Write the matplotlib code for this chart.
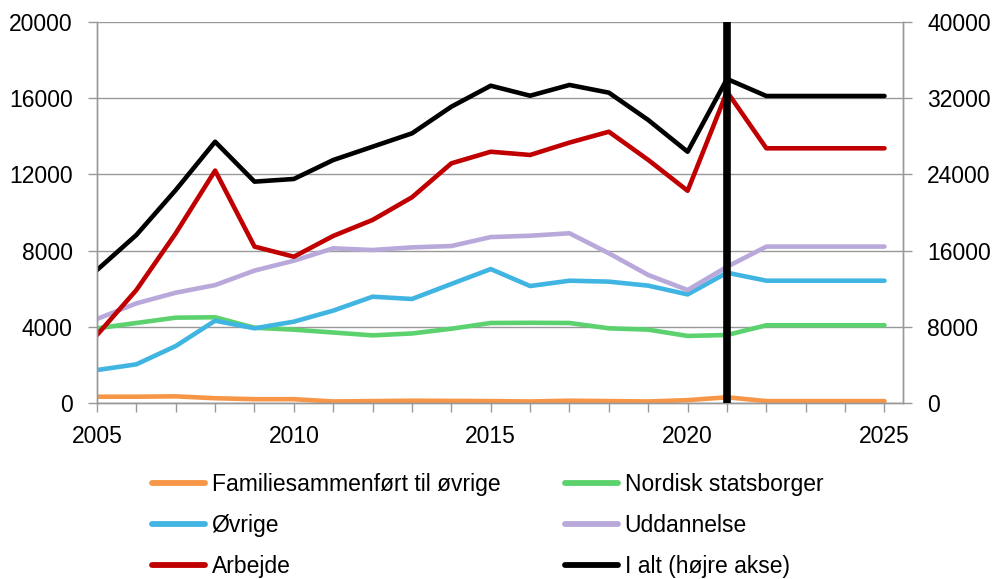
import matplotlib
matplotlib.use("Agg")
import matplotlib.pyplot as plt

years = list(range(2005, 2026))
familie = [330, 330, 350, 250, 200, 200, 80, 100, 120, 110, 100, 80, 120, 100, 80, 150, 300, 100, 100, 100, 100]
nordisk = [3920, 4200, 4480, 4500, 3950, 3850, 3700, 3550, 3650, 3900, 4200, 4210, 4200, 3920, 3850, 3520, 3570, 4080, 4080, 4080, 4080]
oevrige = [1730, 2030, 2990, 4320, 3920, 4270, 4850, 5580, 5460, 6250, 7030, 6140, 6420, 6370, 6160, 5700, 6840, 6420, 6420, 6420, 6420]
uddannelse = [4410, 5230, 5790, 6190, 6950, 7470, 8120, 8030, 8170, 8240, 8710, 8780, 8910, 7860, 6720, 5930, 7150, 8210, 8210, 8210, 8210]
arbejde = [3570, 5930, 8910, 12200, 8210, 7680, 8770, 9610, 10800, 12580, 13190, 13020, 13670, 14240, 12760, 11140, 16340, 13370, 13370, 13370, 13370]
i_alt = [13960, 17640, 22360, 27430, 23240, 23520, 25510, 26910, 28310, 31110, 33310, 32260, 33390, 32580, 29710, 26380, 34020, 32230, 32230, 32230, 32230]
marker_year = 2021
left_ticks = [0, 4000, 8000, 12000, 16000, 20000]
right_ticks = [0, 8000, 16000, 24000, 32000, 40000]
xlabel_years = [2005, 2010, 2015, 2020, 2025]

plt.rcParams['font.family'] = ['Liberation Sans', 'DejaVu Sans']
FS = 16.5

fig = plt.figure(figsize=(10.03, 5.79), dpi=100)
W, H = 1003, 579
ax = fig.add_axes([97 / W, (H - 403) / H, (903 - 97) / W, (403 - 22) / H])
ax2 = ax.twinx()

lw = 3.3
l1, = ax.plot(years, familie, color='#F79646', lw=lw, label='Familiesammenført til øvrige', solid_capstyle='round')
l2, = ax.plot(years, nordisk, color='#5CD26E', lw=lw, label='Nordisk statsborger', solid_capstyle='round')
l3, = ax.plot(years, oevrige, color='#41B5E2', lw=lw, label='Øvrige', solid_capstyle='round')
l4, = ax.plot(years, uddannelse, color='#B9A9DB', lw=lw, label='Uddannelse', solid_capstyle='round')
l5, = ax.plot(years, arbejde, color='#C00000', lw=lw, label='Arbejde', solid_capstyle='round')
l6, = ax2.plot(years, i_alt, color='black', lw=lw, label='I alt (højre akse)', solid_capstyle='round')
ax2.axvline(marker_year, color='black', lw=5.5, zorder=5)

ax.set_xlim(2005, 2025.47)
ax.set_ylim(0, 20000)
ax2.set_ylim(0, 40000)
ax.set_yticks(left_ticks)
ax2.set_yticks(right_ticks)
ax.set_xticks(years)
ax.set_xticklabels([str(y) if y in xlabel_years else '' for y in years])
ax.grid(axis='y', color='#999999', lw=1.0)
ax.set_axisbelow(True)

for a in (ax, ax2):
    a.spines['top'].set_visible(False)
    for s in ('left', 'right', 'bottom'):
        a.spines[s].set_color('#999999')
        a.spines[s].set_linewidth(1.0)
ax.tick_params(axis='both', direction='out', length=6.5, width=1.0, color='#999999', labelsize=FS)
ax.tick_params(axis='y', pad=11)
ax.tick_params(axis='x', pad=9)
ax2.tick_params(axis='y', direction='out', length=6.5, width=1.0, color='#999999', labelsize=FS, pad=11)

def add_legend(hs, x_px):
    leg = fig.legend(handles=hs, labels=[h.get_label() for h in hs], ncol=1,
                     loc='upper left', bbox_to_anchor=(x_px / W, 1 - 473 / H), frameon=False,
                     fontsize=FS, handlelength=2.3, handletextpad=0.3,
                     labelspacing=0.78, borderaxespad=0, borderpad=0)
    for h in leg.legend_handles:
        h.set_linewidth(4.2)
        h.set_solid_capstyle('round')
    return leg

add_legend([l1, l3, l5], 152)
add_legend([l2, l4, l6], 565)

fig.savefig('out.png', dpi=100)
